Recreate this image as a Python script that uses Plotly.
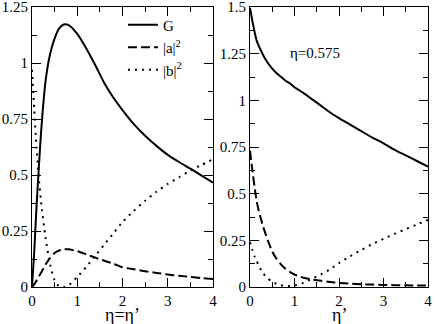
import plotly.graph_objects as go

# left panel: eta = eta'
x_left = [0, 0.05, 0.1, 0.15, 0.2, 0.3, 0.4, 0.5, 0.6, 0.7, 0.8, 1.0, 1.2, 1.4,
          1.6, 1.8, 2.0, 2.25, 2.5, 2.75, 3.0, 3.25, 3.5, 3.75, 4.0]
g_left = [0, 0.16, 0.36, 0.53, 0.69, 0.92, 1.04, 1.11, 1.155, 1.172, 1.17, 1.13,
          1.065, 0.99, 0.91, 0.845, 0.79, 0.727, 0.675, 0.63, 0.59, 0.558, 0.528,
          0.497, 0.466]
a2_left = [0, 0.012, 0.028, 0.046, 0.064, 0.1, 0.13, 0.152, 0.163, 0.168, 0.168,
           0.16, 0.146, 0.131, 0.117, 0.104, 0.088, 0.079, 0.07, 0.063, 0.056,
           0.05, 0.045, 0.04, 0.036]
b2_left = [0.97, 0.79, 0.62, 0.49, 0.38, 0.22, 0.1, 0.03, 0.003, 0.0, 0.006, 0.045,
           0.09, 0.14, 0.19, 0.24, 0.29, 0.34, 0.385, 0.425, 0.46, 0.49, 0.52,
           0.545, 0.57]

# right panel: eta fixed at 0.575
x_right = [0, 0.05, 0.1, 0.15, 0.2, 0.3, 0.4, 0.5, 0.6, 0.7, 0.8, 0.9, 1.0, 1.2,
           1.4, 1.6, 1.8, 2.0, 2.25, 2.5, 2.75, 3.0, 3.25, 3.5, 3.75, 4.0]
g_right = [1.495, 1.43, 1.37, 1.32, 1.29, 1.24, 1.2, 1.17, 1.145, 1.125, 1.105,
           1.09, 1.07, 1.04, 1.005, 0.97, 0.935, 0.905, 0.87, 0.835, 0.8, 0.77,
           0.735, 0.705, 0.675, 0.645]
a2_right = [0.73, 0.63, 0.54, 0.46, 0.405, 0.32, 0.25, 0.19, 0.15, 0.12, 0.097,
            0.08, 0.067, 0.05, 0.04, 0.033, 0.027, 0.022, 0.018, 0.015, 0.013,
            0.011, 0.01, 0.009, 0.008, 0.008]
b2_right = [0.24, 0.2, 0.165, 0.14, 0.11, 0.072, 0.045, 0.028, 0.016, 0.009,
            0.006, 0.006, 0.008, 0.022, 0.045, 0.068, 0.095, 0.128, 0.165, 0.198,
            0.23, 0.258, 0.285, 0.31, 0.335, 0.36]

FONT = "Times New Roman"
SOLID = {"color": "black", "width": 2, "shape": "spline", "smoothing": 0.6}
DASHED = {**SOLID, "dash": "9px,4px"}
DOTTED = {**SOLID, "dash": "2px,5px"}

fig = go.Figure()
fig.add_scatter(x=x_left, y=g_left, mode="lines", name="G", line=SOLID)
fig.add_scatter(x=x_left, y=a2_left, mode="lines", name="|a|<sup>2</sup>", line=DASHED)
fig.add_scatter(x=x_left, y=b2_left, mode="lines", name="|b|<sup>2</sup>", line=DOTTED)
fig.add_scatter(x=x_right, y=g_right, mode="lines", line=SOLID, showlegend=False,
                xaxis="x2", yaxis="y2")
fig.add_scatter(x=x_right, y=a2_right, mode="lines", line=DASHED, showlegend=False,
                xaxis="x2", yaxis="y2")
fig.add_scatter(x=x_right, y=b2_right, mode="lines", line=DOTTED, showlegend=False,
                xaxis="x2", yaxis="y2")

W, H = 436, 324
LEFT_DOM = [32 / W, 213 / W]
RIGHT_DOM = [250 / W, 428 / W]


def axis(domain, rng, dtick, minor, anchor):
    return dict(
        domain=domain, range=rng, dtick=dtick, tick0=0,
        showline=True, linecolor="black", linewidth=1, mirror="allticks",
        ticks="inside", ticklen=9, tickcolor="black", tickwidth=1,
        minor=dict(dtick=minor, ticks="inside", ticklen=5, tickcolor="black"),
        showgrid=False, zeroline=False, automargin=False,
        ticklabeloverflow="allow",
        tickfont=dict(family=FONT, size=15, color="black"),
        anchor=anchor,
    )


def axis_title(text, domain):
    return dict(text=text, x=sum(domain) / 2, y=-0.1, xref="paper", yref="paper",
                xanchor="center", yanchor="middle", showarrow=False,
                font=dict(family=FONT, size=18, color="black"))


fig.update_layout(
    width=W, height=H,
    margin=dict(l=0, r=0, t=7, b=37),
    paper_bgcolor="white", plot_bgcolor="white",
    font=dict(family=FONT, color="black"),
    xaxis=axis(LEFT_DOM, [0, 4], 1, 0.5, "y"),
    yaxis=axis([0, 1], [0, 1.25], 0.25, 0.125, "x"),
    xaxis2=axis(RIGHT_DOM, [0, 4], 1, 0.5, "y2"),
    yaxis2=axis([0, 1], [0, 1.5], 0.25, 0.125, "x2"),
    legend=dict(x=0.282, y=0.995, xanchor="left", yanchor="top",
                font=dict(family=FONT, size=15, color="black"),
                bgcolor="rgba(0,0,0,0)", tracegroupgap=0),
    showlegend=True,
    annotations=[
        axis_title("η=η’", LEFT_DOM),
        axis_title("η’", RIGHT_DOM),
        dict(text="η=0.575", x=1.46, y=1.255, xref="x2", yref="y2",
             showarrow=False, font=dict(family=FONT, size=15, color="black")),
    ],
)

fig.write_html("out.html", config={"displayModeBar": False},
               post_script="document.body.style.margin='0';")
